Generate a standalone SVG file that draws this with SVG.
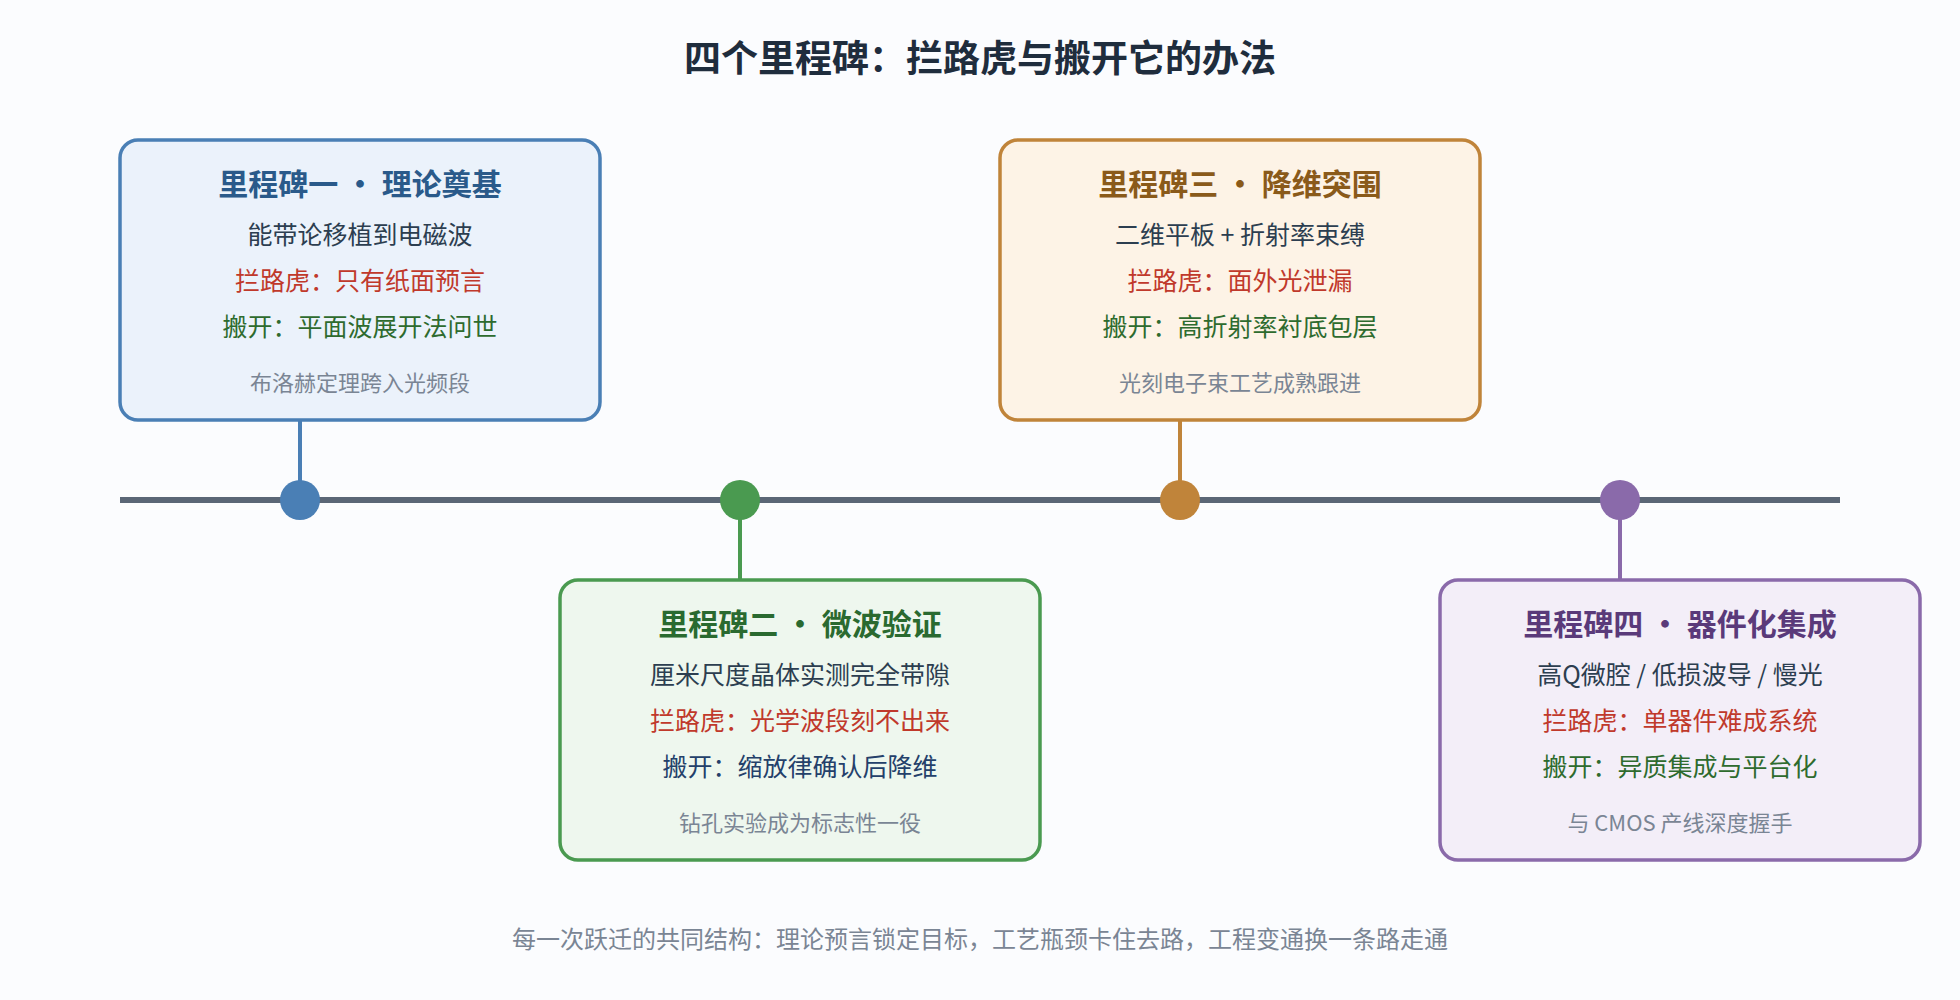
<svg xmlns="http://www.w3.org/2000/svg" width="1960" height="1000" viewBox="0 0 1960 1000">
<style>
text{font-family:"Noto Sans CJK SC","Noto Sans",sans-serif;text-anchor:middle}
.t{font-size:37px;font-weight:bold;fill:#1f2d3d}
.h{font-size:30px;font-weight:bold}
.b{font-size:25px;fill:#2c3e50}
.r{font-size:25px;fill:#c0392b}
.g{font-size:25px;fill:#2e6b2e}
.n{font-size:22px;fill:#7a8594}
.f{font-size:24px;fill:#7a8594}
.box{stroke-width:3.5}
</style>
<rect width="1960" height="1000" fill="#fbfcfe"/>
<text class="t" x="980" y="72">四个里程碑：拦路虎与搬开它的办法</text>
<g id="connectors">
<line x1="120" y1="500" x2="1840" y2="500" stroke="#5a6676" stroke-width="6"/>
<line x1="300" y1="420" x2="300" y2="500" stroke="#4a7fb5" stroke-width="4"/>
<line x1="740" y1="500" x2="740" y2="580" stroke="#4a9a50" stroke-width="4"/>
<line x1="1180" y1="420" x2="1180" y2="500" stroke="#c0843a" stroke-width="4"/>
<line x1="1620" y1="500" x2="1620" y2="580" stroke="#8a6aaa" stroke-width="4"/>
<circle cx="300" cy="500" r="20" fill="#4a7fb5"/>
<circle cx="740" cy="500" r="20" fill="#4a9a50"/>
<circle cx="1180" cy="500" r="20" fill="#c0843a"/>
<circle cx="1620" cy="500" r="20" fill="#8a6aaa"/>
</g>
<g id="m1">
<rect class="box" x="120" y="140" width="480" height="280" rx="18" fill="#ebf2fb" stroke="#4a7fb5"/>
<text class="h" x="360" y="195" fill="#2a5a8a">里程碑一 · 理论奠基</text>
<text class="b" x="360" y="244">能带论移植到电磁波</text>
<text class="r" x="360" y="290">拦路虎：只有纸面预言</text>
<text class="g" x="360" y="336">搬开：平面波展开法问世</text>
<text class="n" x="360" y="391">布洛赫定理跨入光频段</text>
</g>
<g id="m2">
<rect class="box" x="560" y="580" width="480" height="280" rx="18" fill="#eef7ee" stroke="#4a9a50"/>
<text class="h" x="800" y="635" fill="#2a6a30">里程碑二 · 微波验证</text>
<text class="b" x="800" y="684">厘米尺度晶体实测完全带隙</text>
<text class="r" x="800" y="730">拦路虎：光学波段刻不出来</text>
<text class="b" x="800" y="776" style="fill:#24406a">搬开：缩放律确认后降维</text>
<text class="n" x="800" y="831">钻孔实验成为标志性一役</text>
</g>
<g id="m3">
<rect class="box" x="1000" y="140" width="480" height="280" rx="18" fill="#fdf3e6" stroke="#c0843a"/>
<text class="h" x="1240" y="195" fill="#8a5a1a">里程碑三 · 降维突围</text>
<text class="b" x="1240" y="244">二维平板 + 折射率束缚</text>
<text class="r" x="1240" y="290">拦路虎：面外光泄漏</text>
<text class="g" x="1240" y="336">搬开：高折射率衬底包层</text>
<text class="n" x="1240" y="391">光刻电子束工艺成熟跟进</text>
</g>
<g id="m4">
<rect class="box" x="1440" y="580" width="480" height="280" rx="18" fill="#f3eef8" stroke="#8a6aaa"/>
<text class="h" x="1680" y="635" fill="#5a3a7a">里程碑四 · 器件化集成</text>
<text class="b" x="1680" y="684">高Q微腔 / 低损波导 / 慢光</text>
<text class="r" x="1680" y="730">拦路虎：单器件难成系统</text>
<text class="g" x="1680" y="776">搬开：异质集成与平台化</text>
<text class="n" x="1680" y="831">与 CMOS 产线深度握手</text>
</g>
<text class="f" x="980" y="948">每一次跃迁的共同结构：理论预言锁定目标，工艺瓶颈卡住去路，工程变通换一条路走通</text>
</svg>
